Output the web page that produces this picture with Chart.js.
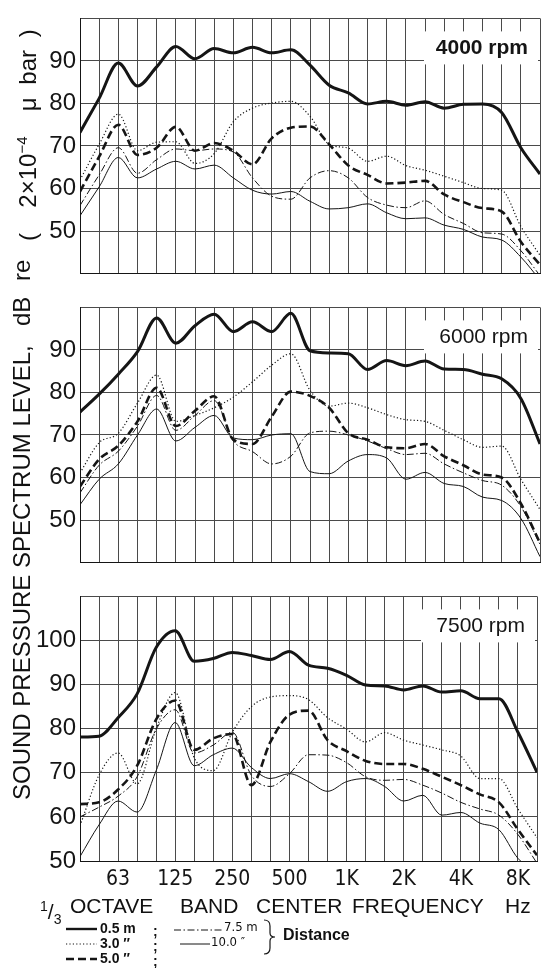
<!DOCTYPE html>
<html>
<head>
<meta charset="utf-8">
<script src="https://cdn.jsdelivr.net/npm/chart.js@4.4.1/dist/chart.umd.min.js"></script>
<style>
  body { margin: 0; background: #fff; width: 543px; height: 968px; position: relative; overflow: hidden;
         font-family: "Liberation Sans", Arial, sans-serif; color: #111; }
  canvas { position: absolute; left: 0; }
  .ytitle { position: absolute; left: 9px; top: 812px; width: 800px; height: 26px; transform-origin: 0 0;
            transform: rotate(-90deg); font-size: 24px; line-height: 26px; white-space: nowrap; }
  .ytitle span, .xtitle span, .legend span { position: absolute; white-space: nowrap; }
  .xtitle { position: absolute; left: 0; top: 893px; width: 543px; height: 26px; font-size: 21px; line-height: 26px; }
  .legend { position: absolute; left: 0; top: 918px; width: 543px; height: 50px; }
  .legend .b { font-weight: bold; font-size: 14px; line-height: 15px; }
  .legend .n { font-size: 13px; line-height: 15px; font-family: "Liberation Sans Narrow", "DejaVu Sans Condensed", sans-serif; }
</style>
</head>
<body>
<canvas id="p4000" width="543" height="292" style="top:0"></canvas>
<canvas id="p6000" width="543" height="292" style="top:289px"></canvas>
<canvas id="p7500" width="543" height="312" style="top:578px"></canvas>

<div class="ytitle">
  <span style="left:12px">SOUND PRESSURE SPECTRUM LEVEL,</span>
  <span style="left:486px">dB</span>
  <span style="left:531px">re</span>
  <span style="left:571px; word-spacing:6px">( &nbsp;2×10<sup style="font-size:15px">−4</sup> &nbsp;μ bar )</span>
</div>

<div class="xtitle">
  <span style="left:40px"><sup style="font-size:14px">1</sup>/<sub style="font-size:14px">3</sub></span>
  <span style="left:70px">OCTAVE</span>
  <span style="left:180px">BAND</span>
  <span style="left:256px">CENTER</span>
  <span style="left:352px">FREQUENCY</span>
  <span style="left:505px">Hz</span>
</div>

<div class="legend" id="legend"></div>

<script>
// 1/3 octave band centres, 40 Hz .. 10 kHz
const bands = ['40', '50', '63', '80', '100', '125', '160', '200', '250', '315', '400', '500', '630',
  '800', '1K', '1.25K', '1.6K', '2K', '2.5K', '3.15K', '4K', '5K', '6.3K', '8K', '10K'];
const xTickLabels = ['', '', '63', '', '', '125', '', '', '250', '', '', '500', '', '',
  '1K', '', '', '2K', '', '', '4K', '', '', '8K', ''];
const distances = ['0.5 m', '3.0 m', '5.0 m', '7.5 m', '10.0 m'];

// 4000 rpm
const rpm4000_05 = [73.2, 81.2, 89.5, 84.1, 88.6, 93.4, 90.5, 92.9, 91.9, 93.2, 91.9, 92.6, 89.0,
  84.3, 82.5, 79.9, 80.5, 79.6, 80.4, 78.9, 79.8, 79.9, 77.9, 69.6, 63.4];
const rpm4000_30 = [62.0, 70.4, 77.5, 68.9, 70.9, 71.0, 65.9, 68.2, 75.7, 78.9, 80.1, 80.5, 77.0,
  70.4, 69.5, 66.4, 67.6, 65.4, 64.3, 62.9, 61.4, 60.0, 59.6, 51.1, 44.3];
const rpm4000_50 = [59.3, 67.5, 75.0, 67.9, 69.6, 74.5, 68.9, 70.7, 68.9, 65.7, 71.8, 74.3, 74.6,
  70.4, 65.4, 63.2, 61.2, 61.4, 61.8, 58.6, 56.8, 55.4, 54.6, 47.5, 42.1];
const rpm4000_75 = [56.0, 63.2, 69.6, 63.6, 66.8, 69.3, 68.9, 69.3, 68.6, 62.5, 58.2, 57.5, 62.5,
  64.2, 62.5, 57.9, 56.1, 55.5, 57.1, 53.9, 51.8, 49.6, 49.3, 45.4, 39.5];
const rpm4000_10 = [53.6, 60.4, 67.3, 62.5, 64.6, 66.4, 64.6, 65.5, 62.5, 59.6, 58.7, 59.3, 57.0,
  55.2, 55.5, 56.4, 54.3, 52.9, 53.1, 51.4, 50.4, 48.6, 47.9, 43.9, 38.5];

// 6000 rpm
const rpm6000_05 = [75.4, 79.6, 84.3, 89.6, 97.5, 91.6, 95.7, 98.4, 94.3, 96.6, 94.3, 98.6, 89.8,
  89.3, 89.1, 85.4, 87.5, 86.3, 87.4, 85.5, 85.4, 84.3, 83.2, 78.6, 67.9];
const rpm6000_30 = [61.1, 68.2, 70.4, 77.5, 84.1, 73.2, 74.6, 76.4, 78.9, 82.5, 86.4, 89.1, 80.5,
  76.8, 77.5, 76.4, 74.8, 73.6, 73.2, 71.1, 68.9, 67.1, 67.4, 59.6, 52.5];
const rpm6000_50 = [57.9, 64.3, 67.5, 73.2, 81.1, 72.1, 75.7, 79.1, 68.9, 67.9, 74.3, 80.2, 79.2,
  76.4, 70.4, 68.9, 67.1, 66.9, 67.9, 65.0, 62.9, 60.7, 60.0, 53.9, 44.6];
const rpm6000_75 = [56.4, 62.9, 66.2, 72.1, 79.3, 71.1, 74.6, 78.1, 68.6, 66.1, 63.2, 65.0, 70.5,
  70.9, 70.0, 68.6, 66.8, 65.4, 65.7, 63.2, 61.1, 59.3, 58.2, 53.2, 44.3];
const rpm6000_10 = [53.6, 59.6, 63.2, 70.0, 76.1, 68.6, 71.8, 74.6, 69.3, 68.9, 70.0, 70.3, 61.4,
  60.9, 63.9, 65.4, 64.6, 59.6, 61.2, 58.6, 57.9, 55.4, 54.6, 50.4, 41.4];

// 7500 rpm
const rpm7500_05 = [78.1, 78.3, 82.5, 87.9, 98.4, 102.2, 95.3, 95.9, 97.3, 96.6, 95.7, 97.5, 94.4,
  93.7, 92.1, 89.9, 89.7, 88.8, 89.7, 88.3, 88.6, 86.8, 86.8, 79.2, 70.1];
const rpm7500_30 = [58.0, 69.5, 74.5, 67.5, 80.0, 88.2, 73.4, 70.5, 79.2, 85.0, 87.2, 87.5, 86.6,
  82.5, 79.9, 77.0, 79.1, 77.4, 76.3, 75.2, 73.8, 68.7, 68.7, 61.8, 55.3];
const rpm7500_50 = [62.9, 63.3, 66.2, 71.6, 82.1, 86.4, 75.2, 77.8, 78.8, 67.2, 77.0, 83.2, 84.1,
  77.4, 74.9, 72.7, 72.0, 72.0, 70.9, 69.1, 67.2, 65.1, 63.3, 57.1, 51.3];
const rpm7500_75 = [60.0, 62.2, 64.7, 69.1, 79.9, 84.3, 74.5, 76.3, 79.2, 69.4, 66.9, 69.8, 74.1,
  74.0, 72.3, 69.1, 68.3, 68.5, 67.2, 65.4, 63.3, 61.8, 60.4, 56.0, 49.5];
const rpm7500_10 = [51.0, 58.2, 63.6, 61.1, 70.5, 81.4, 71.6, 74.1, 75.6, 71.2, 68.7, 69.8, 68.0,
  65.8, 68.0, 68.7, 66.9, 63.6, 64.9, 60.4, 61.0, 58.6, 57.1, 50.6, 47.3];

const yTicks4000 = [50, 60, 70, 80, 90];
const yTicks6000 = [50, 60, 70, 80, 90];
const yTicks7500 = [50, 60, 70, 80, 90, 100];

const ink = '#151515';
const gridColor = '#4a4a4a';
const lineStyles = [
  { borderWidth: 3, borderDash: [] },
  { borderWidth: 1.2, borderDash: [1.2, 2.2] },
  { borderWidth: 2.6, borderDash: [8, 4] },
  { borderWidth: 1, borderDash: [7, 2.5, 1.5, 2.5] },
  { borderWidth: 1, borderDash: [] },
];

const panelTitle = {
  id: 'panelTitle',
  afterDraw(chart, args, opts) {
    const { ctx, chartArea: a } = chart;
    ctx.save();
    ctx.fillStyle = '#fff';
    ctx.fillRect(a.right - 116, a.top + 13, 114, 33);
    ctx.font = opts.font;
    ctx.fillStyle = ink;
    ctx.textAlign = 'right';
    ctx.textBaseline = 'middle';
    ctx.fillText(opts.text, a.right - 12, a.top + 30);
    ctx.restore();
  }
};

function makePanel(id, title, titleFont, min, max, series, yTicks, showX, padTop, padBottom) {
  new Chart(document.getElementById(id), {
    type: 'line',
    data: {
      labels: bands,
      datasets: series.map((s, i) => ({
        label: distances[i],
        data: s,
        borderColor: ink,
        borderWidth: lineStyles[i].borderWidth,
        borderDash: lineStyles[i].borderDash,
        pointRadius: 0,
        cubicInterpolationMode: 'monotone',
        clip: 0,
        fill: false,
      })),
    },
    options: {
      responsive: false,
      animation: false,
      layout: { padding: { top: padTop, bottom: padBottom, left: 0, right: 3 } },
      plugins: {
        legend: { display: false },
        tooltip: { enabled: false },
        panelTitle: { text: title, font: titleFont },
      },
      scales: {
        x: {
          offset: false,
          grid: { color: gridColor, lineWidth: 1, drawTicks: false },
          border: { color: ink, width: 1 },
          ticks: {
            display: showX, autoSkip: false, maxRotation: 0, padding: 6, color: ink,
            font: { family: '"Liberation Sans Narrow", "DejaVu Sans Condensed", sans-serif', size: 21 },
            callback: (v, i) => xTickLabels[i],
          },
          afterFit: (s) => { s.height = showX ? 29 : 0; },
        },
        y: {
          min: min, max: max,
          grid: { color: gridColor, lineWidth: 1, drawTicks: false },
          border: { color: ink, width: 1 },
          ticks: {
            stepSize: 10, padding: 4, color: ink,
            font: { family: '"Liberation Sans", Arial, sans-serif', size: 24 },
            callback: (v) => (yTicks.includes(v) ? String(v) : ''),
          },
          afterFit: (s) => { s.width = 80; },
        },
      },
    },
    plugins: [panelTitle],
  });
}

makePanel('p4000', '4000 rpm', 'bold 21px "Liberation Sans", Arial, sans-serif', 40, 100,
  [rpm4000_05, rpm4000_30, rpm4000_50, rpm4000_75, rpm4000_10], yTicks4000, false, 7, 6);
makePanel('p6000', '6000 rpm', '21px "Liberation Sans", Arial, sans-serif', 40, 100,
  [rpm6000_05, rpm6000_30, rpm6000_50, rpm6000_75, rpm6000_10], yTicks6000, false, 6, 7);
makePanel('p7500', '7500 rpm', '21px "Liberation Sans", Arial, sans-serif', 50, 110,
  [rpm7500_05, rpm7500_30, rpm7500_50, rpm7500_75, rpm7500_10], yTicks7500, true, 7, 0);

// legend below the plots
const legend = document.getElementById('legend');
function sample(x, y, w, i) {
  const st = lineStyles[i];
  legend.insertAdjacentHTML('beforeend',
    `<svg style="position:absolute;left:${x}px;top:${y - 4}px" width="${w}" height="8">` +
    `<line x1="0" y1="4" x2="${w}" y2="4" stroke="${ink}" stroke-width="${Math.min(st.borderWidth, 2.4)}"` +
    ` stroke-dasharray="${st.borderDash.join(' ')}"/></svg>`);
}
function label(x, y, text, cls) {
  legend.insertAdjacentHTML('beforeend', `<span class="${cls}" style="left:${x}px;top:${y - 8}px">${text}</span>`);
}
const rows = [11, 26, 41];
sample(66, rows[0], 31, 0); label(100, rows[0], '0.5 m', 'b');
sample(66, rows[1], 31, 1); label(100, rows[1], '3.0 ″', 'b');
sample(66, rows[2], 31, 2); label(100, rows[2], '5.0 ″', 'b');
[0, 1, 2].forEach((r) => label(153, rows[r] + 3, ';', 'b'));
sample(174, rows[0] + 1, 48, 3); label(224, rows[0] - 2, '7.5 m', 'n');
sample(180, rows[1], 30, 4); label(211, rows[1] - 2, '10.0 ″', 'n');
legend.insertAdjacentHTML('beforeend',
  `<svg style="position:absolute;left:262px;top:0px" width="16" height="38">` +
  `<path d="M2 2 Q8 2 8 8 L8 15 Q8 19 13 19 Q8 19 8 23 L8 30 Q8 36 2 36" fill="none" stroke="${ink}" stroke-width="1.2"/></svg>`);
legend.insertAdjacentHTML('beforeend',
  `<span style="position:absolute;left:283px;top:8px;font-weight:bold;font-size:16px">Distance</span>`);
</script>
</body>
</html>
